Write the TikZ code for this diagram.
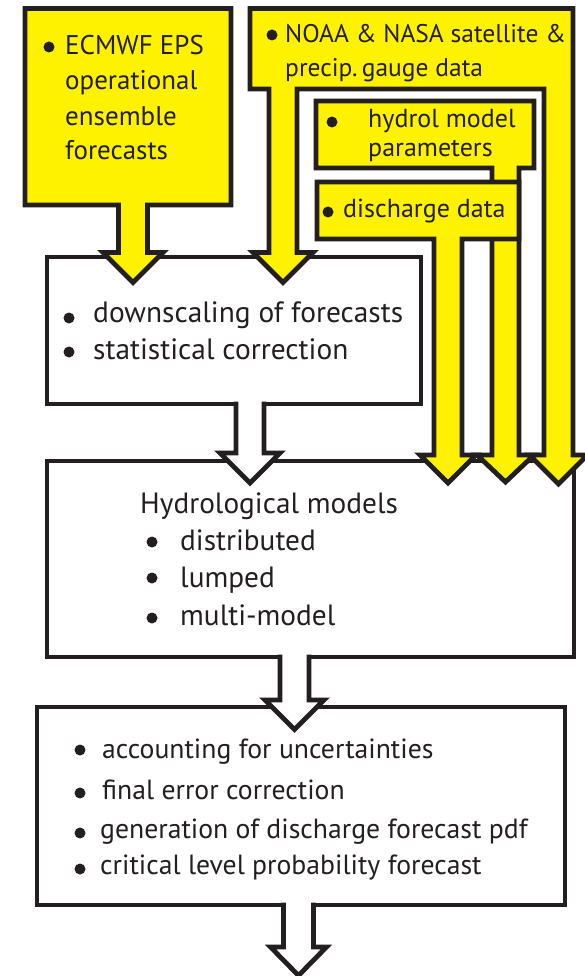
\documentclass[tikz,border=0pt]{standalone}
\usepackage{fontspec}
\setmainfont{PT Sans}
\definecolor{ink}{RGB}{35,31,32}
\definecolor{flagyellow}{RGB}{255,242,0}
\tikzset{
  outline/.style={draw=ink, line width=4.8pt, line join=miter, miter limit=10},
  ybox/.style={outline, fill=flagyellow},
  wbox/.style={outline, fill=white, rectangle, inner sep=0pt, outer sep=0pt},
  warrow/.style={outline, fill=white},
  txt/.style={anchor=base west, inner sep=0pt, text=ink},
  srcA/.style={txt, font=\fontsize{27}{29}\selectfont},
  srcB/.style={txt, font=\fontsize{25.5}{28}\selectfont},
  srcC/.style={txt, font=\fontsize{26}{28}\selectfont},
  procC/.style={txt, font=\fontsize{29.4}{31}\selectfont},
  procD/.style={txt, font=\fontsize{29.3}{31}\selectfont},
  procE/.style={txt, font=\fontsize{27.7}{30}\selectfont},
  dot/.style={fill=ink}
}
\begin{document}
\begin{tikzpicture}[x=1pt, y=-1pt]
\clip (0,0) rectangle (585,976);
\fill[white] (0,0) rectangle (585,976);

% white process boxes
\node[wbox, minimum width=374pt, minimum height=147pt] (prep) at (234,330.5) {};
\node[wbox, minimum width=527pt, minimum height=196pt] (hydro) at (310.5,559) {};
\node[wbox, minimum width=528pt, minimum height=198pt] (post) at (301,806) {};

% white block arrows between the process boxes
\draw[warrow] (236,401.5) -- (236,453) -- (220,453) -- (250,483) -- (280,453) -- (264,453) -- (264,401.5);
\draw[warrow] (280,654.5) -- (280,700) -- (265,700) -- (294.5,729.5) -- (324,700) -- (309,700) -- (309,654.5);
\draw[warrow] (283.5,902.5) -- (283.5,947) -- (270.5,947) -- (298.5,975.5) -- (326.5,947) -- (313.5,947) -- (313.5,902.5);

% yellow data sources with their feeding arrows
\draw[ybox] (250,8.5) -- (573,8.5) -- (573,455) -- (587.5,455) -- (558.5,484) -- (529.5,455) -- (544,455)
  -- (544,89) -- (297,89) -- (297,252.5) -- (313,252.5) -- (283,282.5) -- (253,252.5) -- (269,252.5)
  -- (269,89) -- (250,89) -- cycle;
\draw[ybox] (316,101) -- (534,101) -- (534,168) -- (519,168) -- (519,455) -- (534,455) -- (505.5,482)
  -- (477,455) -- (492,455) -- (492,168) -- (316,168) -- cycle;
\draw[ybox] (317,182) -- (519,182) -- (519,239) -- (462,239) -- (462,455) -- (476,455) -- (448,483)
  -- (420,455) -- (434,455) -- (434,239) -- (317,239) -- cycle;
\draw[ybox] (25,8.5) -- (231,8.5) -- (231,205) -- (147.5,205) -- (147.5,252.5) -- (163,252.5) -- (133,282.5)
  -- (103,252.5) -- (118.5,252.5) -- (118.5,205) -- (25,205) -- cycle;

% texts of the source boxes
\fill[dot] (49,47) circle (5.5);
\node[srcA] (e1) at (65,55) {ECMWF EPS};
\node[srcA] (e2) at (65,90) {operational};
\node[srcA] (e3) at (65,126) {ensemble};
\node[srcA] (e4) at (65,160) {forecasts};

\fill[dot] (272,35) circle (5.5);
\node[srcB] (n1) at (285,43) {NOAA \& NASA satellite \&};
\node[srcB] (n2) at (285,77) {precip.\,gauge data};

\fill[dot] (332,122) circle (5.5);
\node[srcC] (h1) at (368,128) {hydrol model};
\node[srcC] (h2) at (368,157) {parameters};

\fill[dot] (328,212) circle (5.5);
\node[srcC] (d1) at (343,218) {discharge data};

% texts of the process boxes
\fill[dot] (69,318) circle (5.5);
\fill[dot] (69,352) circle (5.5);
\node[procC] (c1) at (93,322) {downscaling of forecasts};
\node[procC] (c2) at (93,359) {statistical correction};

\node[procD] (m0) at (140,513) {Hydrological models};
\fill[dot] (152,542) circle (5.5);
\fill[dot] (152,578) circle (5.5);
\fill[dot] (152,618) circle (5.5);
\node[procD] (m1) at (180,550) {distributed};
\node[procD] (m2) at (180,587) {lumped};
\node[procD] (m3) at (180,625) {multi-model};

\fill[dot] (80,750) circle (5.5);
\fill[dot] (80,793) circle (5.5);
\fill[dot] (80,833) circle (5.5);
\fill[dot] (80,869) circle (5.5);
\node[procE] (p1) at (102,758) {accounting for uncertainties};
\node[procE] (p2) at (102,799) {final error correction};
\node[procE] (p3) at (100,838) {generation of discharge forecast pdf};
\node[procE] (p4) at (100,874) {critical level probability forecast};
\end{tikzpicture}
\end{document}
